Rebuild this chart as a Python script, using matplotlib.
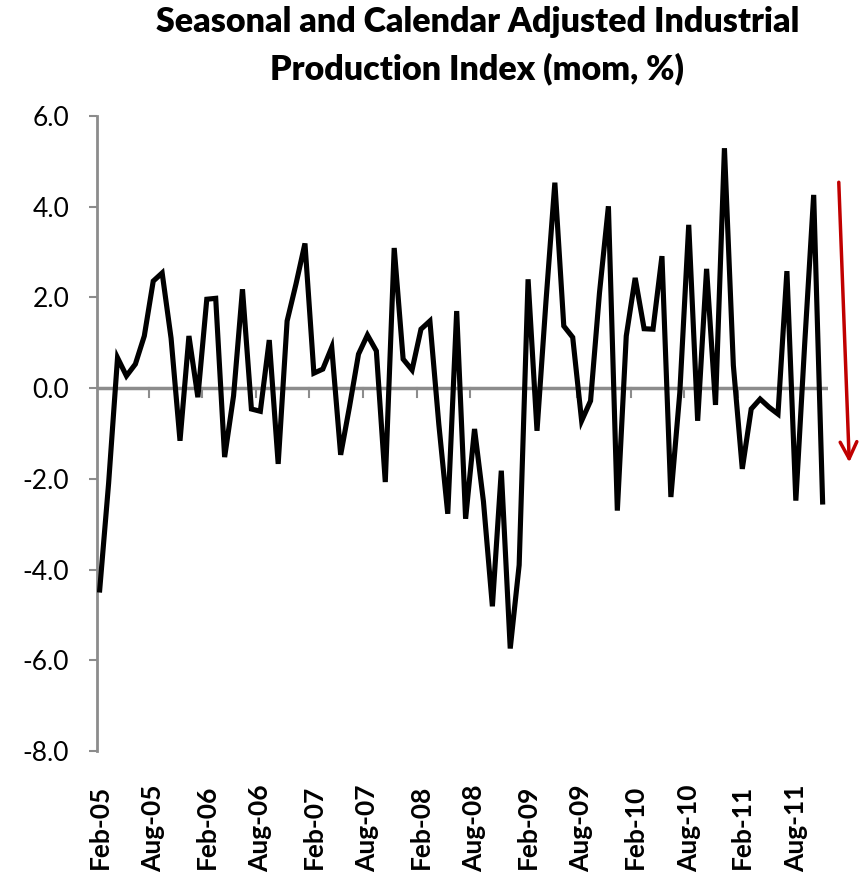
import matplotlib.pyplot as plt
import numpy as np
import pandas as pd

# monthly industrial production, mom %, Feb-05 .. Nov-11
months = pd.date_range('2005-02-01', periods=82, freq='MS')
ipi_mom = [
    -4.45, -2.1, 0.67, 0.27, 0.53, 1.15, 2.36, 2.54, 1.1, -1.16,
    1.15, -0.2, 1.96, 1.98, -1.52, -0.17, 2.18, -0.46, -0.51, 1.06,
    -1.67, 1.48, 2.3, 3.19, 0.33, 0.42, 0.9, -1.47, -0.4, 0.75,
    1.17, 0.82, -2.07, 3.09, 0.64, 0.40, 1.30, 1.48, -0.8, -2.77,
    1.70, -2.88, -0.90, -2.5, -4.81, -1.82, -5.74, -3.9, 2.40, -0.94,
    1.9, 4.53, 1.37, 1.12, -0.72, -0.28, 2.1, 4.01, -2.70, 1.15,
    2.43, 1.31, 1.30, 2.91, -2.40, -0.1, 3.60, -0.72, 2.63, -0.37,
    5.29, 0.5, -1.78, -0.46, -0.24, -0.42, -0.57, 2.58, -2.48, 1.0,
    4.26, -2.51,
]
month_labels = [m.strftime('%b-%y') for m in months]
label_step = 6
y_ticks = [-8.0, -6.0, -4.0, -2.0, 0.0, 2.0, 4.0, 6.0]

plt.rcParams['font.family'] = ['Lato', 'DejaVu Sans']

fig = plt.figure(figsize=(8.63, 8.82), dpi=100)
ax = fig.add_axes([0.1124, 0.1485, 0.8470, 0.7200])

x = np.arange(len(ipi_mom))
ax.plot(x, ipi_mom, color='black', linewidth=3.7, solid_joinstyle='miter', zorder=3)

#Zero line acts as the category axis
grey = '#8c8c8c'
ax.axhline(0, color=grey, linewidth=2.5, zorder=1)
#Tick marks between categories every 6 months, hanging below the zero line
for b in np.arange(label_step - 0.5, len(ipi_mom), label_step):
    ax.plot([b, b], [0, -0.2], color=grey, linewidth=1.5, zorder=1)

ax.set_xlim(-0.3, 81.6)
ax.set_ylim(-8, 6)
ax.set_yticks(y_ticks)
ax.set_yticklabels(['%.1f' % v for v in y_ticks], fontsize=19)

ax.set_xticks(x[::label_step])
ax.set_xticklabels(month_labels[::label_step], rotation=90, fontsize=19,
                   fontweight='bold')
ax.tick_params(axis='x', length=0, pad=24)
ax.tick_params(axis='y', length=6, width=1.5, color=grey, pad=14)

for side in ['top', 'right', 'bottom']:
    ax.spines[side].set_visible(False)
ax.spines['left'].set_color(grey)
ax.spines['left'].set_linewidth(2)

fig.text(0.553, 0.993, 'Seasonal and Calendar Adjusted Industrial\nProduction Index (mom, %)',
         ha='center', va='top', fontsize=24.5, fontweight='heavy', linespacing=1.55)

#Red arrow showing the latest drop
ax.annotate('', xy=(84.0, -1.7), xytext=(82.8, 4.6),
            arrowprops=dict(arrowstyle='->', color='#c00000', lw=2.5,
                            mutation_scale=30),
            annotation_clip=False)

fig.savefig('out.png', dpi=100)
